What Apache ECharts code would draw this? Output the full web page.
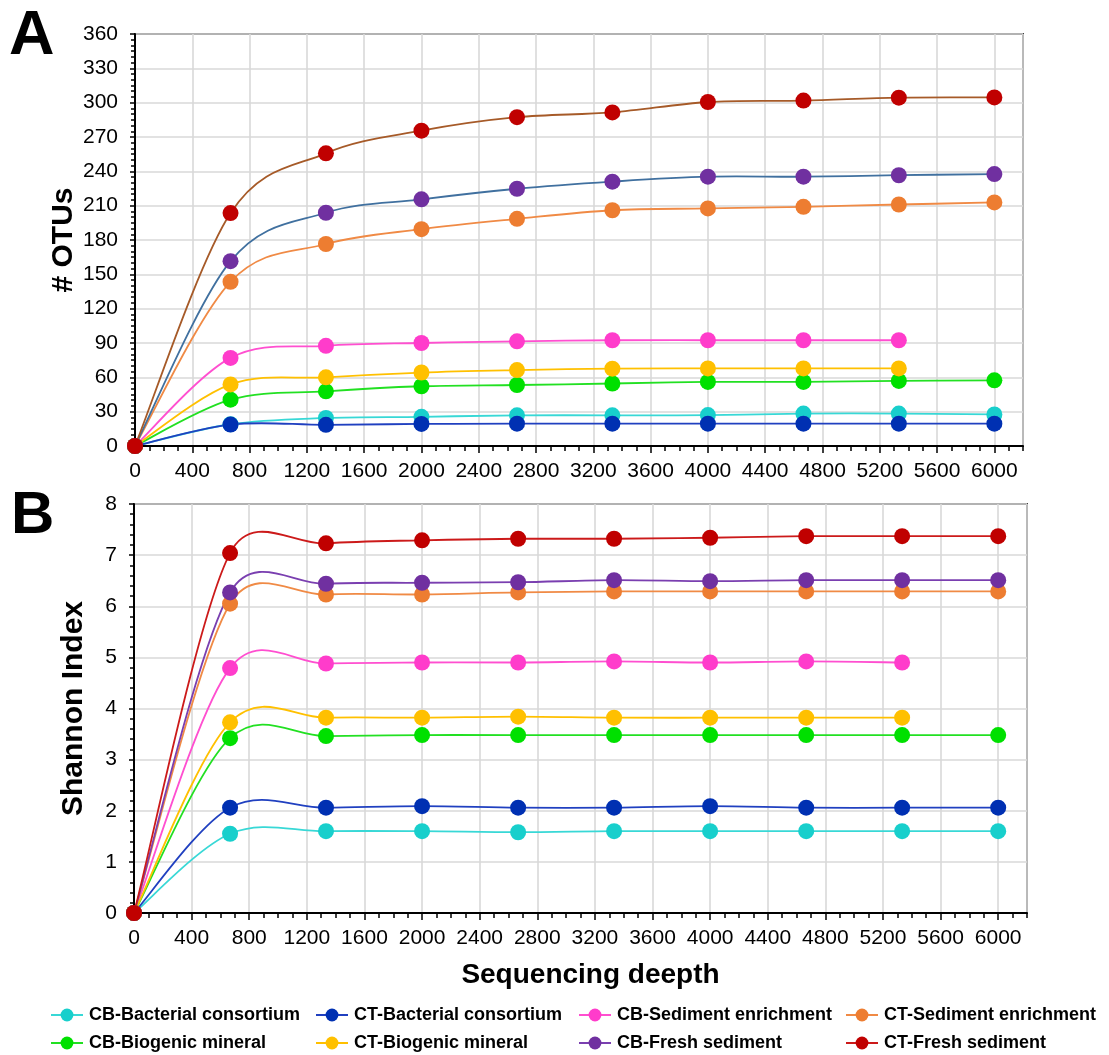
<!DOCTYPE html>
<html>
<head>
<meta charset="utf-8">
<script src="https://cdn.jsdelivr.net/npm/echarts@6/dist/echarts.min.js"></script>
<style>
  html, body { margin: 0; padding: 0; background: #ffffff; }
  #chart { width: 1109px; height: 1055px; }
</style>
</head>
<body>
<div id="chart"></div>
<script>
// Sequencing depth at which each rarefaction step was taken
const depth = [0, 667, 1333, 2000, 2667, 3333, 4000, 4667, 5333, 6000];

const sampleNames = [
  'CB-Bacterial consortium', 'CT-Bacterial consortium',
  'CB-Sediment enrichment', 'CT-Sediment enrichment',
  'CB-Biogenic mineral', 'CT-Biogenic mineral',
  'CB-Fresh sediment', 'CT-Fresh sediment'
];

// Panel A: observed OTUs
const otusCBBacterial = [0, 19, 24.5, 25.5, 26.8, 26.8, 27, 28.3, 28.3, 27.6];
const otusCTBacterial = [0, 18.7, 18.5, 19.3, 19.5, 19.5, 19.5, 19.5, 19.5, 19.5];
const otusCBSediment  = [0, 77, 87.5, 90, 91.5, 92.4, 92.4, 92.4, 92.4];
const otusCTSediment  = [0, 143.5, 176.5, 189.5, 198.5, 206, 207.6, 209, 211, 212.8];
const otusCBBiogenic  = [0, 40.5, 47.8, 52.2, 53.3, 54.6, 56, 56, 56.9, 57.4];
const otusCTBiogenic  = [0, 53.8, 60, 64.2, 66.3, 67.6, 67.8, 67.8, 67.8];
const otusCBFresh     = [0, 161.5, 203.8, 215.5, 224.8, 231, 235.3, 235.3, 236.6, 237.6];
const otusCTFresh     = [0, 203.5, 255.7, 275.5, 287.3, 291.5, 300.6, 301.8, 304.4, 304.6];

// Panel B: Shannon diversity index
const shannonCBBacterial = [0, 1.55, 1.60, 1.60, 1.58, 1.60, 1.60, 1.60, 1.60, 1.60];
const shannonCTBacterial = [0, 2.06, 2.06, 2.09, 2.06, 2.06, 2.09, 2.06, 2.06, 2.06];
const shannonCBSediment  = [0, 4.79, 4.88, 4.90, 4.90, 4.92, 4.90, 4.92, 4.90];
const shannonCTSediment  = [0, 6.05, 6.23, 6.23, 6.27, 6.29, 6.29, 6.29, 6.29, 6.29];
const shannonCBBiogenic  = [0, 3.42, 3.46, 3.48, 3.48, 3.48, 3.48, 3.48, 3.48, 3.48];
const shannonCTBiogenic  = [0, 3.73, 3.82, 3.82, 3.84, 3.82, 3.82, 3.82, 3.82];
const shannonCBFresh     = [0, 6.27, 6.44, 6.46, 6.47, 6.51, 6.49, 6.51, 6.51, 6.51];
const shannonCTFresh     = [0, 7.04, 7.23, 7.29, 7.32, 7.32, 7.34, 7.37, 7.37, 7.37];

const otusSets = [otusCBBacterial, otusCTBacterial, otusCBSediment, otusCTSediment,
                  otusCBBiogenic, otusCTBiogenic, otusCBFresh, otusCTFresh];
const shannonSets = [shannonCBBacterial, shannonCTBacterial, shannonCBSediment, shannonCTSediment,
                     shannonCBBiogenic, shannonCTBiogenic, shannonCBFresh, shannonCTFresh];

const markerColors = ['#18CFCC', '#0030B2', '#FF3CCB', '#ED7D31', '#00E000', '#FFC000', '#7030A0', '#C00000'];
const lineColorsB  = ['#38D8D6', '#2040C0', '#FF4FD0', '#F08A45', '#22E022', '#FFC000', '#7A3FB0', '#CC1A1A'];
const lineColorsA  = ['#38D8D6', '#2040C0', '#FF4FD0', '#F08A45', '#22E022', '#FFC000', '#40709F', '#A65A28'];

const FONT = 'Liberation Sans, Arial, sans-serif';

// Spreadsheet-style smoothing: Bezier arms of 1/6 of the neighbour chord,
// limited to half of the segment they belong to.
function bezierSegments(pts, color) {
  const n = pts.length;
  const f = 1 / 6;
  const dist = (a, b) => Math.hypot(b[0] - a[0], b[1] - a[1]);
  const segs = [];
  for (let i = 0; i < n - 1; i++) {
    const p0 = pts[Math.max(i - 1, 0)];
    const p1 = pts[i];
    const p2 = pts[i + 1];
    const p3 = pts[Math.min(i + 2, n - 1)];
    const d12 = dist(p1, p2), d02 = dist(p0, p2), d13 = dist(p1, p3);
    const f1 = (d02 === 0 || d02 * f < d12 / 2) ? f : d12 / (2 * d02);
    const f2 = (d13 === 0 || d13 * f < d12 / 2) ? f : d12 / (2 * d13);
    segs.push({
      type: 'bezierCurve',
      shape: {
        x1: p1[0], y1: p1[1],
        x2: p2[0], y2: p2[1],
        cpx1: p1[0] + f1 * (p2[0] - p0[0]), cpy1: p1[1] + f1 * (p2[1] - p0[1]),
        cpx2: p2[0] - f2 * (p3[0] - p1[0]), cpy2: p2[1] - f2 * (p3[1] - p1[1])
      },
      style: { stroke: color, lineWidth: 1.8, fill: 'none' }
    });
  }
  return segs;
}

function pairs(values) {
  return values.map((v, i) => [depth[i], v]);
}

function markerSeries(idx, values, axis) {
  return {
    type: 'line',
    name: sampleNames[idx],
    xAxisIndex: axis.x, yAxisIndex: axis.y,
    data: pairs(values),
    symbol: 'circle', symbolSize: 16, showSymbol: true,
    lineStyle: { width: 0, color: lineColorsB[idx] },
    itemStyle: { color: markerColors[idx] },
    z: 3, silent: true, animation: false
  };
}

function curveSeries(idx, values, axis, color) {
  return {
    type: 'custom',
    name: sampleNames[idx],
    xAxisIndex: axis.x, yAxisIndex: axis.y,
    data: pairs(values),
    encode: { x: 0, y: 1 },
    z: 2, silent: true, animation: false,
    itemStyle: { color: markerColors[idx] },
    renderItem: function (params, api) {
      if (params.dataIndexInside !== 0) return null;
      const pts = [];
      for (let i = 0; i < params.dataInsideLength; i++) {
        pts.push(api.coord([api.value(0, i), api.value(1, i)]));
      }
      return { type: 'group', children: bezierSegments(pts, color) };
    }
  };
}

const axisA = { x: 0, y: 0 };
const axisB = { x: 2, y: 1 };

const series = [];
shannonSets.forEach((v, i) => series.push(markerSeries(i, v, axisB)));
otusSets.forEach((v, i) => series.push(markerSeries(i, v, axisA)));
shannonSets.forEach((v, i) => series.push(curveSeries(i, v, axisB, lineColorsB[i])));
otusSets.forEach((v, i) => series.push(curveSeries(i, v, axisA, lineColorsA[i])));

const plainNumber = (v) => String(v);

function mainX(gridIndex, extra) {
  return Object.assign({
    type: 'value', gridIndex: gridIndex, position: 'bottom',
    min: 0, max: 6200, interval: 400,
    axisLine: { show: true, onZero: false, lineStyle: { color: '#000', width: 2 } },
    axisTick: { show: true, length: 7, lineStyle: { color: '#000', width: 1.5 } },
    axisLabel: { show: true, fontSize: 21, color: '#000', margin: 15, fontFamily: FONT,
                 showMaxLabel: false, hideOverlap: false, formatter: plainNumber },
    splitLine: { show: true, lineStyle: { color: '#d9d9d9', width: 1.6 } }
  }, extra || {});
}
function minorX(gridIndex) {
  return {
    type: 'value', gridIndex: gridIndex, position: 'bottom',
    min: 0, max: 6200, interval: 100,
    axisLine: { show: false },
    axisTick: { show: true, length: 5, lineStyle: { color: '#000', width: 1.5 } },
    axisLabel: { show: false },
    splitLine: { show: false }
  };
}
function mainY(gridIndex, max, interval, minorSplit, name, nameGap) {
  return {
    type: 'value', gridIndex: gridIndex, min: 0, max: max, interval: interval,
    name: name, nameLocation: 'middle', nameGap: nameGap, nameMoveOverlap: false,
    nameTextStyle: { fontSize: 30, fontWeight: 'bold', color: '#000', fontFamily: FONT },
    axisLine: { show: true, onZero: false, lineStyle: { color: '#000', width: 2 } },
    axisTick: { show: true, length: 5, lineStyle: { color: '#000', width: 1.5 } },
    minorTick: { show: true, splitNumber: minorSplit, length: 4, lineStyle: { color: '#000', width: 1.5 } },
    axisLabel: { fontSize: 21, color: '#000', margin: 17, fontFamily: FONT, formatter: plainNumber },
    splitLine: { show: true, lineStyle: { color: '#d9d9d9', width: 1.6 } },
    minorSplitLine: { show: false }
  };
}

const legendCols = [50, 315, 578, 845];
const legendRows = [1006, 1034];
const legends = sampleNames.map((name, i) => ({
  data: [name],
  left: legendCols[i % 4],
  top: legendRows[Math.floor(i / 4)],
  orient: 'horizontal',
  padding: 0,
  itemWidth: 32, itemHeight: 16, itemGap: 0,
  selectedMode: false,
  lineStyle: { width: 2 },
  textStyle: { fontSize: 18, fontWeight: 'bold', color: '#000', fontFamily: FONT, padding: [0, 0, 0, 1] }
}));

const option = {
  animation: false,
  backgroundColor: '#ffffff',
  textStyle: { fontFamily: FONT },
  title: [
    { text: 'A', left: 9, top: 5, padding: 0, textStyle: { fontSize: 63, fontWeight: 'bold', color: '#000', fontFamily: FONT } },
    { text: 'B', left: 11, top: 486, padding: 0, textStyle: { fontSize: 60, fontWeight: 'bold', color: '#000', fontFamily: FONT } }
  ],
  grid: [
    { left: 135, top: 34, width: 888, height: 412, show: true, borderColor: '#404040', borderWidth: 2,
      backgroundColor: 'transparent', containLabel: false, outerBoundsMode: 'none' },
    { left: 134, top: 504, width: 893, height: 409, show: true, borderColor: '#404040', borderWidth: 2,
      backgroundColor: 'transparent', containLabel: false, outerBoundsMode: 'none' }
  ],
  xAxis: [
    mainX(0),
    minorX(0),
    mainX(1, {
      name: 'Sequencing deepth', nameLocation: 'middle', nameGap: 48, nameMoveOverlap: false,
      nameTextStyle: { fontSize: 28, fontWeight: 'bold', color: '#000', fontFamily: FONT, padding: [0, 0, 0, 20] }
    }),
    minorX(1)
  ],
  yAxis: [
    mainY(0, 360, 30, 6, '# OTUs', 56),
    mainY(1, 8, 1, 5, 'Shannon Index', 45)
  ],
  legend: legends,
  series: series
};

const chart = echarts.init(document.getElementById('chart'), null, { renderer: 'canvas' });
chart.setOption(option);
</script>
</body>
</html>
